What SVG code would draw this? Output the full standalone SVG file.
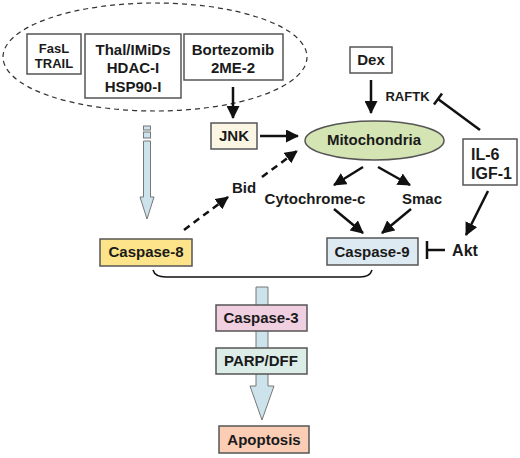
<svg xmlns="http://www.w3.org/2000/svg" width="520" height="458" viewBox="0 0 520 458">
<defs>
<marker id="ah" markerUnits="userSpaceOnUse" markerWidth="13" markerHeight="13" refX="12" refY="6.5" orient="auto"><path d="M0,0 L13,6.5 L0,13 Z" fill="#111"/></marker>
<style>
text{font-family:"Liberation Sans",Arial,sans-serif;font-weight:bold;fill:#1a1a1a;font-size:15px;text-anchor:middle}
.box{stroke:#555;stroke-width:1.5}
.ln{stroke:#111;stroke-width:2.5;fill:none}
.dash{stroke-dasharray:7,5}
.big{fill:#cde3ec;stroke:#777;stroke-width:1}
</style>
</defs>
<rect width="520" height="458" fill="#fff"/>
<ellipse cx="155" cy="57" rx="152" ry="54" fill="none" stroke="#333" stroke-width="1.2" stroke-dasharray="5,4"/>
<g id="connectors">
<path class="big" d="M143.5,141 L150.5,141 L150.5,197 L154,197 L147,219 L140,197 L143.5,197 Z"/>
<rect class="big" x="143.5" y="126" width="7" height="4"/>
<rect class="big" x="143.5" y="132" width="7" height="6"/>
<path class="big" d="M256,287 L268,287 L268,386 L274,386 L262,420 L250,386 L256,386 Z"/>
<path d="M153,270 Q155,277 166,277 L360,277 Q370,277 372,270" fill="none" stroke="#111" stroke-width="1.5"/>
<line class="ln" x1="233" y1="87" x2="233" y2="118" marker-end="url(#ah)"/>
<line class="ln" x1="260" y1="136" x2="298" y2="136" marker-end="url(#ah)"/>
<line class="ln" x1="371" y1="80" x2="371" y2="113" marker-end="url(#ah)"/>
<line class="ln" x1="480" y1="130" x2="438" y2="99"/>
<line class="ln" x1="434" y1="104.6" x2="442" y2="93.4"/>
<line class="ln" x1="363" y1="167" x2="334" y2="185" marker-end="url(#ah)"/>
<line class="ln" x1="378" y1="167" x2="410" y2="185" marker-end="url(#ah)"/>
<line class="ln" x1="334" y1="209" x2="363" y2="233" marker-end="url(#ah)"/>
<line class="ln" x1="411" y1="209" x2="382" y2="233" marker-end="url(#ah)"/>
<line class="ln" x1="488" y1="191" x2="466" y2="235" marker-end="url(#ah)"/>
<line class="ln" x1="445" y1="250" x2="427" y2="250"/>
<line class="ln" x1="427" y1="241" x2="427" y2="259"/>
<line class="ln dash" x1="184" y1="230" x2="228" y2="197" marker-end="url(#ah)"/>
<line class="ln dash" x1="262" y1="177" x2="297" y2="151" marker-end="url(#ah)"/>
</g>
<g id="fasl"><rect class="box" x="27" y="34" width="54" height="40" fill="#fff"/><text x="54" y="53" font-size="13" style="font-size:13px">FasL</text><text x="54" y="68" style="font-size:13px">TRAIL</text></g>
<g id="thal"><rect class="box" x="85" y="34" width="96" height="64" fill="#fff"/><text x="133" y="55">Thal/IMiDs</text><text x="133" y="73">HDAC-I</text><text x="133" y="92">HSP90-I</text></g>
<g id="bortezomib"><rect class="box" x="184" y="34" width="99" height="46" fill="#fff"/><text x="233" y="55">Bortezomib</text><text x="233" y="73">2ME-2</text></g>
<g id="jnk"><rect class="box" x="211" y="123" width="46" height="26" fill="#fbf6e3"/><text x="234" y="141">JNK</text></g>
<g id="dex"><rect class="box" x="350" y="47" width="42" height="26" fill="#fff"/><text x="371" y="65">Dex</text></g>
<g id="raftk"><text x="407.5" y="101" style="font-size:13px">RAFTK</text></g>
<g id="mitochondria"><ellipse cx="374.5" cy="140.5" rx="69.5" ry="19.5" fill="#d5e4b3" stroke="#555" stroke-width="1.5"/><text x="374" y="145">Mitochondria</text></g>
<g id="il6"><rect class="box" x="463" y="139" width="54" height="46" fill="#fff"/><text x="471" y="160" style="font-size:16px;text-anchor:start">IL-6</text><text x="471" y="179" style="font-size:16px;text-anchor:start">IGF-1</text></g>
<g id="bid"><text x="244" y="193">Bid</text></g>
<g id="cytc"><text x="315" y="204">Cytochrome-c</text></g>
<g id="smac"><text x="422" y="204">Smac</text></g>
<g id="casp8"><rect class="box" x="100" y="239" width="92" height="27" fill="#fde48a"/><text x="146" y="257">Caspase-8</text></g>
<g id="casp9"><rect class="box" x="327" y="238" width="91" height="27" fill="#deeaf2"/><text x="372" y="257">Caspase-9</text></g>
<g id="akt"><text x="465" y="256" style="font-size:16px">Akt</text></g>
<g id="casp3"><rect class="box" x="216" y="305" width="91" height="26" fill="#f0cfe1"/><text x="261" y="323">Caspase-3</text></g>
<g id="parp"><rect class="box" x="216" y="348" width="91" height="26" fill="#dcede8"/><text x="261" y="366">PARP/DFF</text></g>
<g id="apoptosis"><rect class="box" x="219" y="426" width="90" height="27" fill="#fbcdb5"/><text x="264" y="445">Apoptosis</text></g>
</svg>
